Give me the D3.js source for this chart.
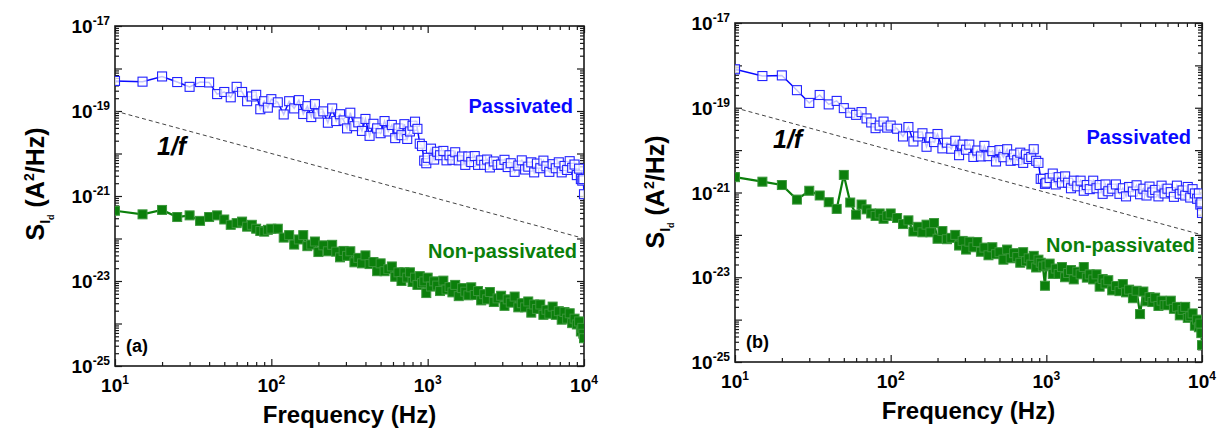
<!DOCTYPE html>
<html>
<head>
<meta charset="utf-8">
<script src="https://cdn.jsdelivr.net/npm/d3@7"></script>
<style>
  html, body { margin: 0; padding: 0; background: #ffffff; }
  svg { display: block; }
  text { font-family: "Liberation Sans", Arial, sans-serif; font-weight: bold; }
</style>
</head>
<body>
<script>
// ---------------- DATA ----------------
const freqHz = [
  10,15,20,25,30,35,40,45,50,55,60,65,70,75,80,85,90,95,100,
  110,120,130,140,150,160,170,180,190,200,
  215,230,245,260,275,290,305,320,340,360,380,400,
  425,450,475,500,530,560,590,620,650,680,710,740,770,800,830,860,890,920,950,980,
  1000,1050,1100,1150,1200,1260,1320,1380,1440,1500,1580,1660,1740,1820,1900,
  2000,2100,2200,2300,2400,2500,2650,2800,2950,3100,3250,3400,
  3600,3800,4000,4200,4400,4600,4800,5000,5250,5500,5750,6000,
  6300,6600,6900,7200,7500,7800,8100,8400,8700,9000,9300,9550,9750,9900,10000
];

// Panel (a): noise PSD S_Id (A^2/Hz)
const passivatedA = [
  5.1e-19,4.9e-19,6.5e-19,4.8e-19,3.7e-19,4.8e-19,4.7e-19,2.5e-19,2.8e-19,2.1e-19,3.7e-19,2.8e-19,1.7e-19,2.2e-19,2.4e-19,1.1e-19,1.7e-19,1.2e-19,1.9e-19,
  1.6e-19,8.3e-20,1.7e-19,1.15e-19,1.8e-19,8.5e-20,1.3e-19,7.2e-20,1.45e-19,8.7e-20,
  9.8e-20,5.3e-20,1.15e-19,5.8e-20,8.4e-20,6.0e-20,3.9e-20,9.1e-20,4.4e-20,5.4e-20,3.4e-20,6.5e-20,
  2.6e-20,5.0e-20,3.9e-20,3.0e-20,5.8e-20,3.3e-20,4.7e-20,2.3e-20,3.9e-20,2.7e-20,4.9e-20,2.2e-20,3.3e-20,4.5e-20,5.6e-20,3.8e-20,1.7e-20,1.5e-20,6.8e-21,5.9e-21,
  7.9e-21,1.3e-20,7.2e-21,1.1e-20,9.1e-21,1.15e-20,6.9e-21,9.1e-21,7.1e-21,1.07e-20,6.9e-21,8.5e-21,5.4e-21,8.5e-21,6.3e-21,
  8.7e-21,5.4e-21,6.9e-21,5.4e-21,7.2e-21,4.7e-21,6.5e-21,5.4e-21,5.5e-21,7.1e-21,4.8e-21,5.9e-21,
  3.7e-21,5.2e-21,6.9e-21,4.2e-21,4.9e-21,6.2e-21,3.6e-21,5.8e-21,4.5e-21,6.8e-21,5.0e-21,3.7e-21,
  5.6e-21,4.5e-21,6.2e-21,3.6e-21,5.1e-21,4.1e-21,6.6e-21,4.6e-21,5.5e-21,3.1e-21,4.4e-21,2.5e-21,2.3e-21,2.5e-21,1.1e-21
];
const nonPassivatedA = [
  4.5e-22,3.7e-22,4.7e-22,3.2e-22,3.5e-22,2.6e-22,3.2e-22,3.5e-22,2.8e-22,2.1e-22,2.3e-22,2.5e-22,1.9e-22,2.1e-22,1.7e-22,1.5e-22,1.45e-22,1.6e-22,1.7e-22,
  1.7e-22,1.05e-22,1.2e-22,7.2e-23,9.5e-23,1.2e-22,6.6e-23,7.2e-23,8.5e-23,4.8e-23,
  6.9e-23,5.0e-23,7.1e-23,4.9e-23,3.6e-23,5.1e-23,3.9e-23,5.0e-23,2.75e-23,3.5e-23,2.6e-23,4.0e-23,
  2.5e-23,2.8e-23,1.7e-23,2.6e-23,1.7e-23,1.9e-23,2.2e-23,1.26e-23,1.6e-23,1.0e-23,1.6e-23,1.2e-23,1.6e-23,9.5e-24,1.2e-23,8.1e-24,1.3e-23,8.9e-24,9.8e-24,5.2e-24,
  1.2e-23,7.4e-24,9.8e-24,7.8e-24,5.8e-24,1.02e-23,6.3e-24,7.2e-24,5.4e-24,8.1e-24,4.4e-24,6.8e-24,5.6e-24,4.6e-24,7.1e-24,
  4.7e-24,5.8e-24,3.5e-24,4.9e-24,3.7e-24,5.5e-24,3.2e-24,3.9e-24,4.5e-24,2.6e-24,3.7e-24,3.1e-24,
  4.3e-24,2.4e-24,3.0e-24,2.4e-24,3.3e-24,1.8e-24,2.8e-24,2.2e-24,2.8e-24,1.6e-24,2.1e-24,1.7e-24,
  2.5e-24,1.6e-24,1.95e-24,1.23e-24,1.86e-24,1.3e-24,1.74e-24,1.02e-24,1.3e-24,9.5e-25,1.12e-24,6.5e-25,7.9e-25,5.75e-25,4.5e-25
];

// Panel (b)
const passivatedB = [
  8.1e-19,5.6e-19,5.8e-19,2.6e-19,1.3e-19,2.0e-19,1.2e-19,1.45e-19,9.8e-20,7.6e-20,6.8e-20,7.9e-20,5.6e-20,4.5e-20,3.3e-20,3.8e-20,4.7e-20,3.4e-20,3.8e-20,
  3.2e-20,2.1e-20,3.5e-20,1.6e-20,2.1e-20,2.5e-20,1.2e-20,2.0e-20,1.55e-20,2.4e-20,
  1.1e-20,1.5e-20,1.08e-20,1.66e-20,7.6e-21,1.35e-20,1.02e-20,1.35e-20,6.9e-21,9.8e-21,7.1e-21,1.26e-20,
  7.2e-21,9.5e-21,5.4e-21,1.0e-20,6.8e-21,1.05e-20,5.6e-21,7.9e-21,5.8e-21,8.7e-21,5.0e-21,7.9e-21,6.2e-21,6.9e-21,1.05e-20,5.6e-21,5.0e-21,2.1e-21,2.1e-21,1.6e-21,
  1.7e-21,2.2e-21,2.8e-21,1.55e-21,2.3e-21,1.7e-21,2.4e-21,1.7e-21,1.26e-21,1.9e-21,1.4e-21,1.9e-21,1.1e-21,1.5e-21,1.2e-21,
  1.9e-21,1.26e-21,1.5e-21,9.3e-22,1.55e-21,1.07e-21,1.23e-21,1.55e-21,9.3e-22,1.26e-21,8.1e-22,1.35e-21,
  1.05e-21,1.48e-21,9.1e-22,1.23e-21,8.5e-22,1.38e-21,1.0e-21,1.15e-21,8.1e-22,1.45e-21,9.5e-22,1.23e-21,
  1.02e-21,7.9e-22,1.45e-21,9.3e-22,1.12e-21,8.5e-22,1.35e-21,7.6e-22,1.2e-21,9.5e-22,7.1e-22,9.5e-22,5.2e-22,5.8e-22,3.3e-22
];
const nonPassivatedB = [
  2.3e-21,1.8e-21,1.5e-21,6.8e-22,1.1e-21,8.5e-22,5.9e-22,4.1e-22,2.6e-21,5.8e-22,3.0e-22,5.2e-22,4.0e-22,3.2e-22,2.8e-22,3.2e-22,2.4e-22,2.8e-22,3.2e-22,
  2.5e-22,1.8e-22,2.2e-22,1.2e-22,1.55e-22,1.15e-22,1.74e-22,1.15e-22,1.9e-22,8.1e-23,
  1.23e-22,7.9e-23,8.5e-23,1.0e-22,5.6e-23,7.2e-23,4.5e-23,6.9e-23,5.1e-23,6.8e-23,4.0e-23,5.0e-23,
  3.3e-23,5.1e-23,3.5e-23,3.9e-23,2.6e-23,4.5e-23,2.8e-23,3.7e-23,3.0e-23,2.2e-23,3.9e-23,2.4e-23,2.8e-23,2.0e-23,3.2e-23,1.7e-23,2.6e-23,2.2e-23,1.8e-23,6.3e-24,
  1.9e-23,2.1e-23,1.2e-23,1.6e-23,1.2e-23,1.74e-23,1.0e-23,1.26e-23,1.48e-23,8.9e-24,1.35e-23,1.17e-23,1.74e-23,9.8e-24,1.17e-23,
  8.9e-24,1.17e-23,6.0e-24,9.1e-24,7.1e-24,8.5e-24,4.9e-24,6.2e-24,4.7e-24,6.9e-24,4.4e-24,5.1e-24,
  3.2e-24,4.8e-24,1.35e-24,4.6e-24,2.7e-24,3.4e-24,2.6e-24,3.3e-24,2.1e-24,2.8e-24,2.2e-24,2.2e-24,
  2.8e-24,1.8e-24,2.0e-24,1.26e-24,1.7e-24,2.0e-24,1.1e-24,1.2e-24,1.4e-24,7.2e-25,1.0e-24,6.6e-25,8.1e-25,4.8e-25,2.5e-25
];

// 1/f guide line end points (Hz, A^2/Hz)
const oneOverFHz = [10, 10000];
const oneOverFS  = [1e-19, 1e-22];

// axis ticks
const xMajorTicks = [10, 100, 1000, 10000];
const xTickExponents = ["1", "2", "3", "4"];
const yLabelTicks = [1e-17, 1e-19, 1e-21, 1e-23, 1e-25];
const yTickExponents = ["-17", "-19", "-21", "-23", "-25"];
const yDomain = [1e-25, 1e-17];
const xDomain = [10, 10000];

// ---------------- DRAW ----------------
const W = 1222, H = 436;
const svg = d3.select("body").append("svg").attr("width", W).attr("height", H);
svg.append("rect").attr("width", W).attr("height", H).attr("fill", "#ffffff");

const BLUE = "#0a0aff", GREEN = "#0b7f0b", AXIS = "#1a1a1a";

function drawPanel(cfg, pas, non, id) {
  const x = d3.scaleLog().domain(xDomain).range([cfg.left, cfg.right]);
  const y = d3.scaleLog().domain(yDomain).range([cfg.bottom, cfg.top]);
  const g = svg.append("g");

  const clipId = "clip-" + id;
  svg.append("defs").append("clipPath").attr("id", clipId)
    .append("rect").attr("x", cfg.left).attr("y", cfg.top)
    .attr("width", cfg.right - cfg.left).attr("height", cfg.bottom - cfg.top);

  const xMinor = [], yMinor = [], yMajor = [];
  for (let e = 1; e < 4; e++) for (let k = 2; k <= 9; k++) xMinor.push(k * Math.pow(10, e));
  for (let e = -25; e <= -17; e++) yMajor.push(Math.pow(10, e));
  for (let e = -25; e < -17; e++) for (let k = 2; k <= 9; k++) yMinor.push(k * Math.pow(10, e));

  const axStyle = sel => {
    sel.select(".domain").remove();
    sel.selectAll("line").attr("stroke", AXIS).attr("stroke-width", 1.2);
    sel.selectAll("text").remove();
  };
  g.append("g").attr("transform", `translate(0,${cfg.bottom})`)
    .call(d3.axisBottom(x).tickValues(xMajorTicks).tickSize(-7)).call(axStyle);
  g.append("g").attr("transform", `translate(0,${cfg.bottom})`)
    .call(d3.axisBottom(x).tickValues(xMinor).tickSize(-4)).call(axStyle);
  g.append("g").attr("transform", `translate(0,${cfg.top})`)
    .call(d3.axisTop(x).tickValues(xMajorTicks).tickSize(-7)).call(axStyle);
  g.append("g").attr("transform", `translate(0,${cfg.top})`)
    .call(d3.axisTop(x).tickValues(xMinor).tickSize(-4)).call(axStyle);
  g.append("g").attr("transform", `translate(${cfg.left},0)`)
    .call(d3.axisLeft(y).tickValues(yMajor).tickSize(-7)).call(axStyle);
  g.append("g").attr("transform", `translate(${cfg.left},0)`)
    .call(d3.axisLeft(y).tickValues(yMinor).tickSize(-4)).call(axStyle);
  g.append("g").attr("transform", `translate(${cfg.right},0)`)
    .call(d3.axisRight(y).tickValues(yMajor).tickSize(-7)).call(axStyle);
  g.append("g").attr("transform", `translate(${cfg.right},0)`)
    .call(d3.axisRight(y).tickValues(yMinor).tickSize(-4)).call(axStyle);

  g.append("rect").attr("x", cfg.left).attr("y", cfg.top)
    .attr("width", cfg.right - cfg.left).attr("height", cfg.bottom - cfg.top)
    .attr("fill", "none").attr("stroke", AXIS).attr("stroke-width", 1.6);

  xMajorTicks.forEach((v, i) => {
    const t = g.append("text").attr("x", x(v)).attr("y", cfg.bottom + 26)
      .attr("text-anchor", "middle").attr("font-size", 19).attr("fill", "#000");
    t.append("tspan").text("10");
    t.append("tspan").attr("dy", -8).attr("font-size", 12).text(xTickExponents[i]);
  });
  yLabelTicks.forEach((v, i) => {
    const t = g.append("text").attr("x", cfg.left - 5).attr("y", y(v) + 7)
      .attr("text-anchor", "end").attr("font-size", 19).attr("fill", "#000");
    t.append("tspan").text("10");
    t.append("tspan").attr("dy", -8).attr("font-size", 12).text(yTickExponents[i]);
  });

  g.append("text").attr("x", (cfg.left + cfg.right) / 2).attr("y", cfg.bottom + 57)
    .attr("text-anchor", "middle").attr("font-size", 24).attr("fill", "#000")
    .text("Frequency (Hz)");
  const yt = g.append("text")
    .attr("transform", `translate(${cfg.yTitleX},${cfg.yTitleY}) rotate(-90)`)
    .attr("text-anchor", "middle").attr("font-size", 25).attr("fill", "#000");
  yt.append("tspan").text("S");
  yt.append("tspan").attr("dy", 6).attr("font-size", 14).text("I");
  yt.append("tspan").attr("dy", 4).attr("font-size", 9).text("d");
  yt.append("tspan").attr("dy", -10).text(" (A");
  yt.append("tspan").attr("dy", -10).attr("font-size", 14).text("2");
  yt.append("tspan").attr("dy", 10).text("/Hz)");

  const plot = g.append("g").attr("clip-path", `url(#${clipId})`);
  const guide = oneOverFHz.map((f, i) => ({ f, s: oneOverFS[i] }));
  plot.append("path").datum(guide)
    .attr("d", d3.line().x(d => x(d.f)).y(d => y(d.s)))
    .attr("fill", "none").attr("stroke", "#444").attr("stroke-width", 1)
    .attr("stroke-dasharray", "4,3");

  const pasData = freqHz.map((f, i) => ({ f, v: pas[i] }));
  const nonData = freqHz.map((f, i) => ({ f, v: non[i] }));
  const line = d3.line().x(d => x(d.f)).y(d => y(d.v));
  const S = 9;

  plot.append("path").datum(nonData).attr("d", line)
    .attr("fill", "none").attr("stroke", GREEN).attr("stroke-width", 2.2);
  plot.append("g").selectAll("rect").data(nonData).join("rect")
    .attr("x", d => x(d.f) - S / 2).attr("y", d => y(d.v) - S / 2)
    .attr("width", S).attr("height", S)
    .attr("fill", GREEN).attr("stroke", "#3a963a").attr("stroke-width", 1);

  plot.append("path").datum(pasData).attr("d", line)
    .attr("fill", "none").attr("stroke", BLUE).attr("stroke-width", 1.5);
  plot.append("g").selectAll("rect").data(pasData).join("rect")
    .attr("x", d => x(d.f) - S / 2).attr("y", d => y(d.v) - S / 2)
    .attr("width", S).attr("height", S)
    .attr("fill", "#ffffff").attr("fill-opacity", 0.75)
    .attr("stroke", "#2323ff").attr("stroke-width", 1.1);

  g.append("text").attr("x", cfg.pasX).attr("y", cfg.pasY).attr("text-anchor", "end")
    .attr("font-size", 20).attr("fill", BLUE).text("Passivated");
  g.append("text").attr("x", cfg.nonX).attr("y", cfg.nonY).attr("text-anchor", "end")
    .attr("font-size", 20).attr("fill", GREEN).text("Non-passivated");
  g.append("text").attr("x", cfg.fX).attr("y", cfg.fY)
    .attr("font-size", 25).attr("font-style", "italic").attr("fill", "#000").text("1/f");
  g.append("text").attr("x", cfg.tagX).attr("y", cfg.tagY)
    .attr("font-size", 18).attr("fill", "#000").text(cfg.tag);
}

drawPanel({ left: 115, right: 584, top: 26, bottom: 366,
  yTitleX: 44, yTitleY: 184,
  pasX: 573, pasY: 113, nonX: 577, nonY: 258, fX: 157, fY: 155,
  tag: "(a)", tagX: 126, tagY: 352 }, passivatedA, nonPassivatedA, "a");

drawPanel({ left: 735, right: 1202, top: 23, bottom: 362,
  yTitleX: 664, yTitleY: 192,
  pasX: 1191, pasY: 144, nonX: 1195, nonY: 252, fX: 773, fY: 148,
  tag: "(b)", tagX: 746, tagY: 348 }, passivatedB, nonPassivatedB, "b");
</script>
</body>
</html>
